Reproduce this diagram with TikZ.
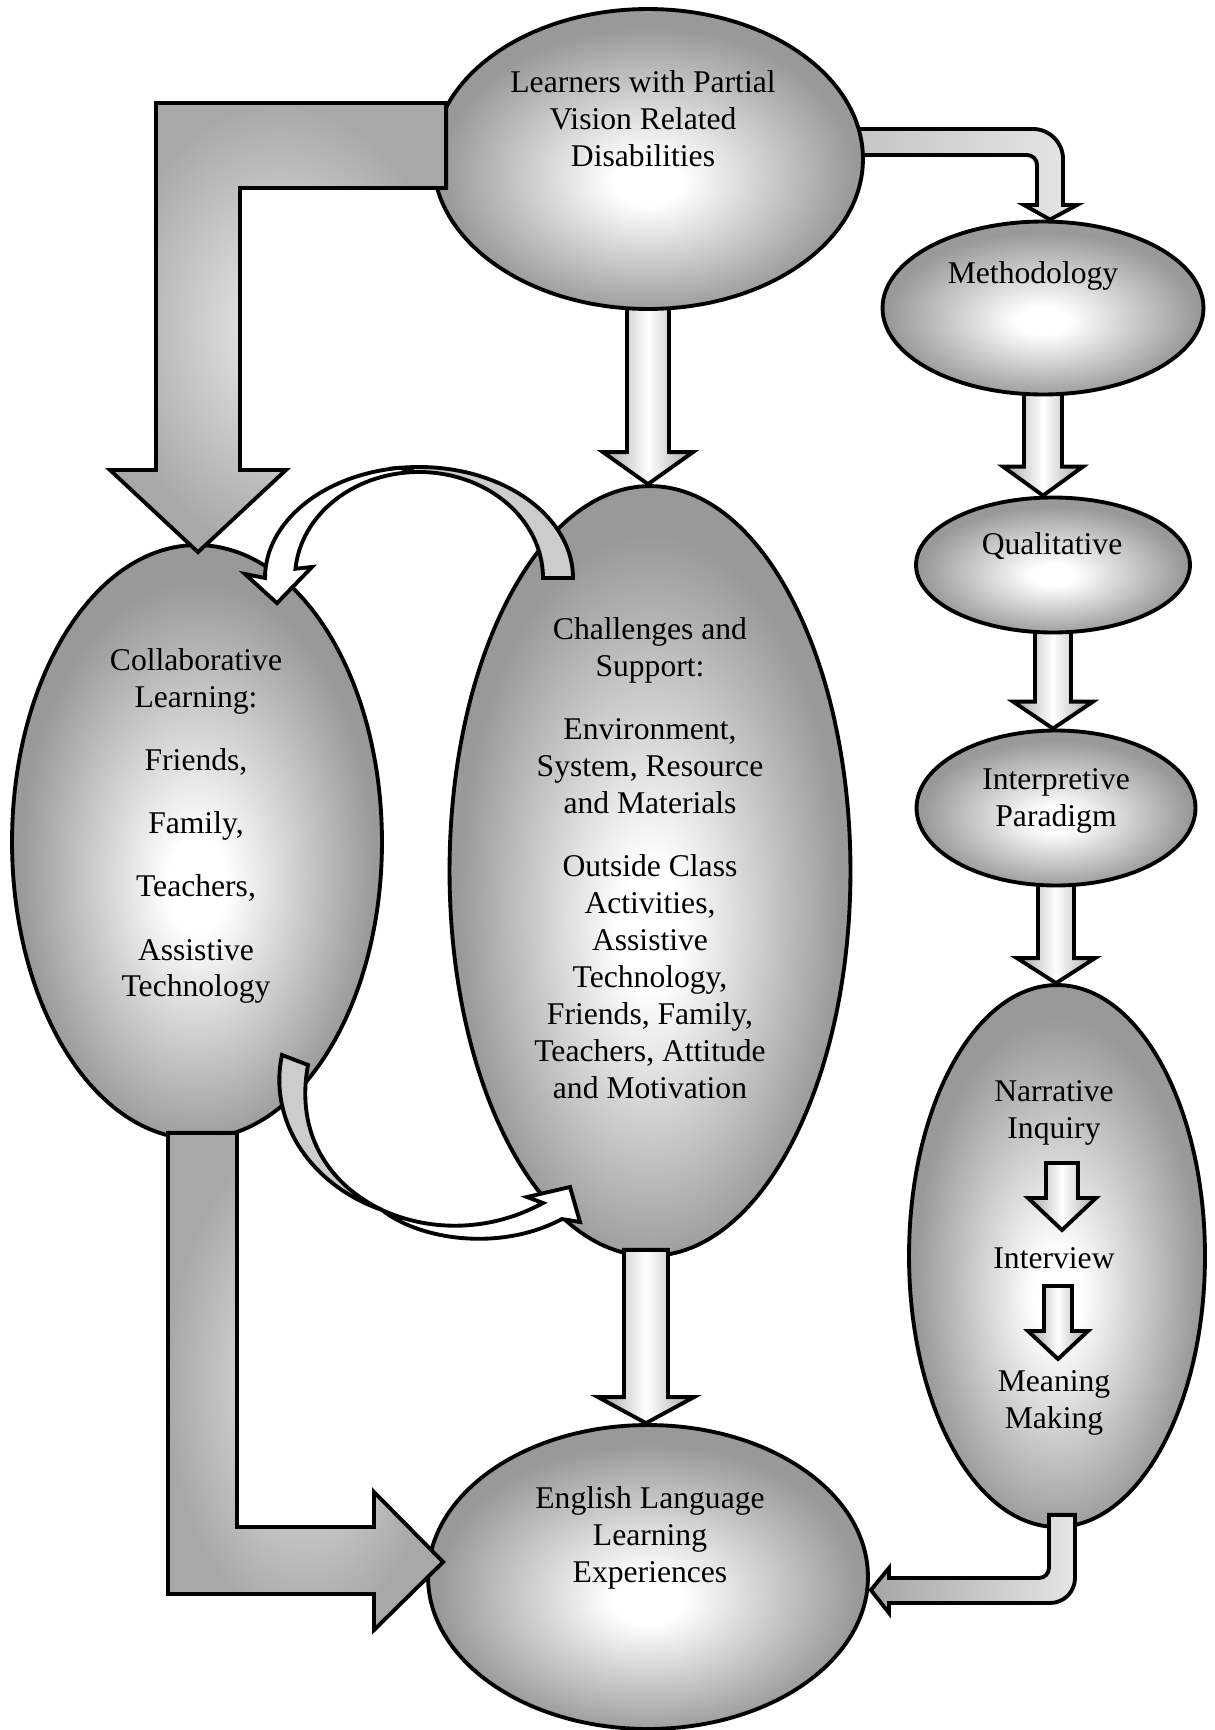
\documentclass[tikz,border=0pt]{standalone}
\usepackage{fontspec}
\setmainfont{Liberation Serif}
\usetikzlibrary{shapes.geometric, calc, backgrounds}

\colorlet{ballin}{white}
\colorlet{ballout}{gray!80}
\pgfdeclareradialshading{ballshade}{\pgfpoint{0bp}{-4bp}}{%
  color(0bp)=(ballin); color(4bp)=(ballin);
  color(24bp)=(ballout); color(50bp)=(ballout)}

\tikzset{
  ball/.style={ellipse, draw, line width=2.2pt, shading=ballshade, inner sep=0pt},
  lbl/.style={align=center, inner sep=0pt, font=\fontsize{18}{21}\selectfont},
  blockarrow/.style={draw, line width=2.2pt, left color=gray!70, right color=gray!70, middle color=white},
  bentarrow/.style={draw, line width=2.2pt, inner color=gray!15, outer color=gray!68},
  tubearrow/.style={draw, line width=2.2pt, left color=gray!70, right color=gray!20},
  curl/.style={draw, line width=2.2pt},
}

% block arrow from #2 straight down to the level of #3
\newcommand\vblock[6][]{%
  \draw[blockarrow,#1] ($(#2)+(-#4,0)$) -- ($(#2)+(#4,0)$) -- ($(#2 |- #3)+(#4,-#6)$)
    -- ($(#2 |- #3)+(#5,-#6)$) -- (#2 |- #3) -- ($(#2 |- #3)+(-#5,-#6)$)
    -- ($(#2 |- #3)+(-#4,-#6)$) -- cycle;}

\begin{document}
\begin{tikzpicture}[x=0.02cm, y=-0.02cm]
\useasboundingbox (0,0) rectangle (1214,1730);

% ellipses
\node[ball, minimum width=8.6cm, minimum height=6cm] (learn) at (648,159) {};
\node[ball, minimum width=6.42cm, minimum height=3.46cm] (meth) at (1043,308) {};
\node[ball, minimum width=5.48cm, minimum height=2.7cm] (qual) at (1053,565) {};
\node[ball, minimum width=5.58cm, minimum height=3.1cm] (interp) at (1056,808) {};
\node[ball, minimum width=5.92cm, minimum height=10.84cm] (narr) at (1057,1256) {};
\node[ball, minimum width=7.4cm, minimum height=11.88cm] (collab) at (197,842) {};
\node[ball, minimum width=8.02cm, minimum height=15.4cm] (chal) at (650,871) {};
\node[ball, minimum width=8.8cm, minimum height=6.08cm] (eng) at (648,1577) {};

% texts
\node[lbl] (learntxt) at (643,119) {Learners with Partial\\Vision Related\\Disabilities};
\node[lbl] (methtxt) at (1033,276) {Methodology};
\node[lbl] (qualtxt) at (1052,546) {Qualitative};
\node[lbl] (interptxt) at (1056,801) {Interpretive\\Paradigm};
\node[lbl] (collabtxt) at (196,826) {Collaborative\\Learning:\\[15pt]Friends,\\[15pt]Family,\\[15pt]Teachers,\\[15pt]Assistive\\Technology};
\node[lbl] (chaltxt) at (650,858) {Challenges and\\Support:\\[15pt]Environment,\\System, Resource\\and Materials\\[15pt]Outside Class\\Activities,\\Assistive\\Technology,\\Friends, Family,\\Teachers, Attitude\\and Motivation};
\node[lbl] (narrtxt) at (1054,1113) {Narrative\\Inquiry};
\node[lbl] (intv) at (1054,1258) {Interview};
\node[lbl] (mean) at (1054,1403) {Meaning\\Making};
\node[lbl] (engtxt) at (650,1538) {English Language\\Learning\\Experiences};

% arrows behind the ellipses
\begin{scope}[on background layer]
\vblock{learn}{chal.north}{21}{45}{32}
\vblock{meth}{qual.north}{19}{40}{29}
\vblock{qual}{interp.north}{18}{40}{27}
\vblock{interp}{narr.north}{18}{39}{25}
\draw[tubearrow] ($(learn)+(0,-30)$) -- (1033,129) arc[start angle=-90,end angle=0,radius=30]
  -- (1063,205) -- (1077,205) -- ($(meth.north)+(7,0)$) -- (1024,205) -- (1037,205)
  -- (1037,165) arc[start angle=0,end angle=-90,radius=10] -- ($(learn)+(0,-4)$) -- cycle;
\end{scope}

% learners -> collaborative
\draw[bentarrow] ($(learn.west)+(15,-56)$) -- (156,103) -- (156,470) -- (110,470)
  -- ($(collab.north)+(1,9)$) -- (286,470) -- (240,470) -- (240,188) -- ($(learn.west)+(15,29)$) -- cycle;
% collaborative -> english
\draw[bentarrow] ($(collab.south)+(-29,-8)$) -- ($(collab.south)+(40,-8)$) -- (237,1527) -- (374,1527)
  -- (374,1492) -- ($(eng.west)+(17,-15)$) -- (374,1630) -- (374,1594) -- (168,1594) -- cycle;
% challenges -> english
\coordinate (chalout) at ($(chal.south)+(-4,-8)$);
\vblock{chalout}{eng.north}{22}{48}{26}
% narrative -> english
\draw[tubearrow] ($(narr.south)+(-8,-14)$) -- ($(narr.south)+(18,-14)$) -- (1075,1578)
  arc[start angle=0,end angle=90,radius=25] -- (889,1603) -- (889,1613) -- ($(eng.east)+(1,13)$)
  -- (889,1568) -- (889,1578) -- (1039,1578) arc[start angle=90,end angle=0,radius=10] -- cycle;

% inside narrative inquiry
\coordinate (s1) at ($(narrtxt)+(8,50)$);
\coordinate (e1) at ($(intv)+(8,-28)$);
\vblock{s1}{e1}{16}{34}{32}
\coordinate (s2) at ($(intv)+(4,28)$);
\coordinate (e2) at ($(mean)+(4,-44)$);
\vblock{s2}{e2}{14}{30}{28}

% curved arrow challenges -> collaborative
\coordinate (tarc) at (419,578);
\draw[curl, fill=gray!40] ($(tarc)+(154,0)$) arc[start angle=0,end angle=-97,x radius=154,y radius=111]
  -- ($(tarc)+(-92:124 and 106)$) arc[start angle=-92,end angle=0,x radius=124,y radius=106] -- cycle;
\draw[curl, fill=white] ($(tarc)+(-97:154 and 111)$) arc[start angle=-97,end angle=-180,x radius=154,y radius=111]
  -- (245,574) -- ($(collab.north)+(80,60)$) -- (312,567)
  -- ($(tarc)+(-175:124 and 106)$) arc[start angle=-175,end angle=-92,x radius=124,y radius=106] -- cycle;

% curved arrow collaborative -> challenges
\draw[curl, fill=gray!40] ($(collab)+(85,213)$) .. controls (268,1120) and (310,1185) .. (382,1210)
  .. controls (330,1185) and (295,1135) .. (308,1065) -- cycle;
\draw[curl, fill=white] (382,1210) .. controls (420,1240) and (500,1252) .. (562,1219) -- (580,1222)
  -- ($(chal)+(-80,316)$) -- (527,1197) -- (543,1203) .. controls (490,1232) and (430,1232) .. (382,1210) -- cycle;
\end{tikzpicture}
\end{document}
